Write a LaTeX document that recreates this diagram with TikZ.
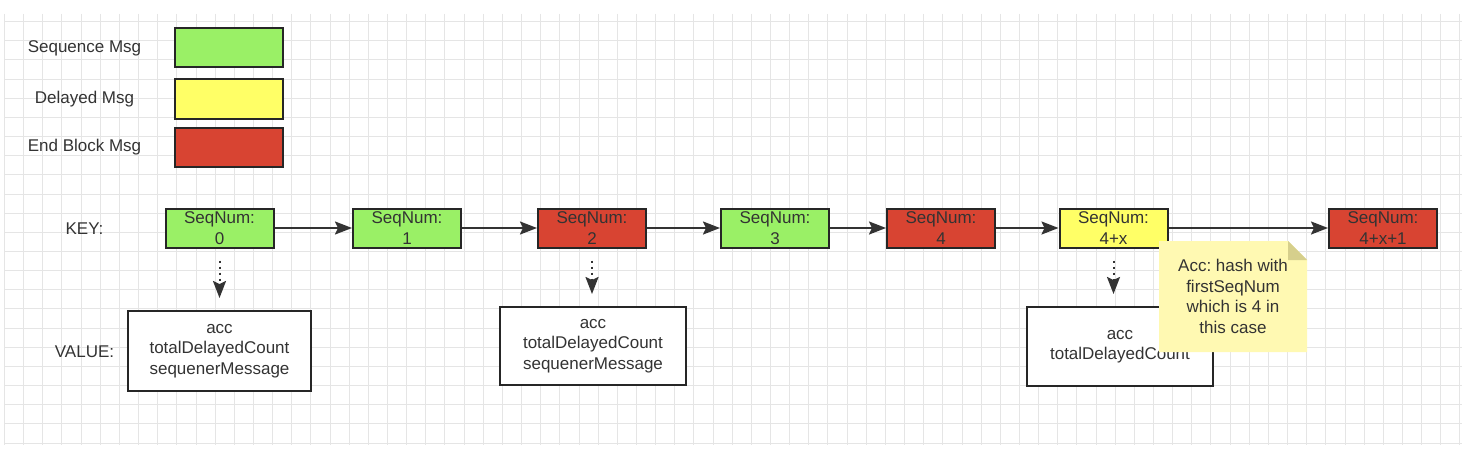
\documentclass[tikz,border=0pt]{standalone}
\usepackage{fontspec}
\setmainfont{Liberation Sans}
\usetikzlibrary{arrows.meta}
\frenchspacing
\definecolor{seqgreen}{RGB}{154,240,102}
\definecolor{delayyellow}{RGB}{255,255,102}
\definecolor{endred}{RGB}{216,68,50}
\definecolor{notefill}{RGB}{255,249,178}
\definecolor{notefold}{RGB}{214,207,140}
\definecolor{gridgray}{RGB}{229,229,229}
\definecolor{inkgray}{RGB}{51,51,51}

\begin{document}
\begin{tikzpicture}[
    x=1pt, y=-1pt,
    font=\fontsize{17}{20.5}\selectfont,
    gridline/.style={draw=gridgray, line width=1pt},
    lbl/.style={text=inkgray, align=center},
    legend/.style={draw=black!85, line width=2pt, minimum width=108pt, minimum height=39pt},
    msg/.style={draw=black!85, line width=2pt, minimum width=108pt, minimum height=39pt, text=inkgray, align=center, inner sep=0pt},
    val/.style={draw=black!85, line width=2pt, fill=white, text=inkgray, align=center},
    arr/.style={draw=black!80, line width=2pt, -{Stealth[length=17pt, width=13pt, inset=3pt]}},
    dotarr/.style={arr, dash pattern=on 2pt off 4pt, shorten <=12pt, shorten >=12pt},
    note/.style={minimum width=148pt, minimum height=111pt, text=inkgray, align=center,
        path picture={
            \fill[notefill] (path picture bounding box.north west)
                -- ([xshift=-19pt]path picture bounding box.north east)
                -- ([yshift=-19pt]path picture bounding box.north east)
                -- (path picture bounding box.south east)
                -- (path picture bounding box.south west) -- cycle;
            \fill[notefold] ([xshift=-19pt]path picture bounding box.north east)
                -- ([xshift=-19pt,yshift=-19pt]path picture bounding box.north east)
                -- ([yshift=-19pt]path picture bounding box.north east) -- cycle;
        }}
]

\useasboundingbox[fill=white] (0,0) rectangle (1478,452);

\foreach \i in {0,...,76}
    \draw[gridline] ({4.5+19.15*\i},14) -- ({4.5+19.15*\i},445);
\foreach \j in {0,...,22}
    \draw[gridline] (4,{443-19.15*\j}) -- (1462,{443-19.15*\j});

\node[lbl] (lseq) at (84.5,48) {Sequence Msg};
\node[lbl] (ldel) at (84.5,99) {Delayed Msg};
\node[lbl] (lend) at (84.5,147) {End Block Msg};
\node[legend, fill=seqgreen] (bseq) at (229,47.5) {};
\node[legend, fill=delayyellow] (bdel) at (229,99) {};
\node[legend, fill=endred] (bend) at (229,147.5) {};

\node[lbl] (key) at (84.5,229) {KEY:};
\node[lbl] (value) at (84.5,352) {VALUE:};

\node[msg, fill=seqgreen] (s0) at (219.5,228) {SeqNum:\\0};
\node[msg, fill=seqgreen] (s1) at (407,228) {SeqNum:\\1};
\node[msg, fill=endred] (s2) at (592,228) {SeqNum:\\2};
\node[msg, fill=seqgreen] (s3) at (775,228) {SeqNum:\\3};
\node[msg, fill=endred] (s4) at (941,228) {SeqNum:\\4};
\node[msg, fill=delayyellow] (s5) at (1113.5,228) {SeqNum:\\4+x};
\node[msg, fill=endred] (s6) at (1383,228) {SeqNum:\\4+x+1};

\draw[arr] (s0) -- (s1);
\draw[arr] (s1) -- (s2);
\draw[arr] (s2) -- (s3);
\draw[arr] (s3) -- (s4);
\draw[arr] (s4) -- (s5);
\draw[arr] (s5) -- (s6);

\node[val, minimum width=183pt, minimum height=80pt] (v0) at (219.5,351) {acc\\totalDelayedCount\\sequenerMessage};
\node[val, minimum width=186pt, minimum height=78pt] (v2) at (593,346) {acc\\totalDelayedCount\\sequenerMessage};
\node[val, minimum width=186pt, minimum height=79pt] (v5) at (1120,346.5) {acc\\totalDelayedCount};

\draw[dotarr] (s0.south) -- (s0.south |- v0.north);
\draw[dotarr] (s2.south) -- (s2.south |- v2.north);
\draw[dotarr] (s5.south) -- (s5.south |- v5.north);

\node[note] (acc) at (1233,296.5) {Acc: hash with\\firstSeqNum\\which is 4 in\\this case};

\end{tikzpicture}
\end{document}
